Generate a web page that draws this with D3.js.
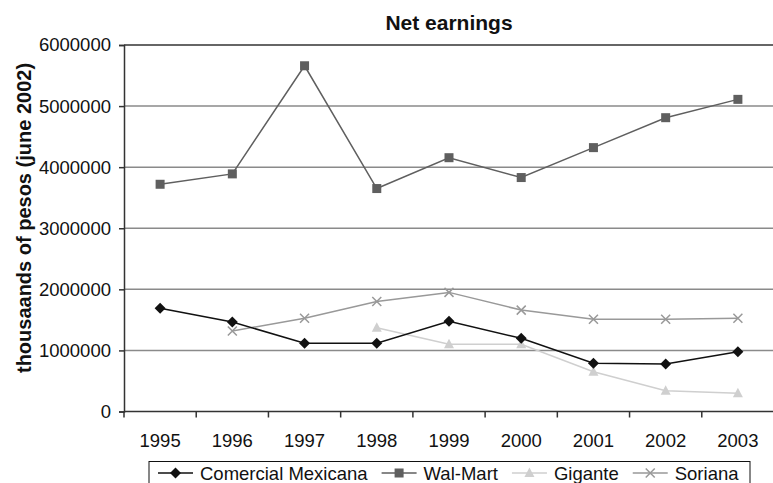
<!DOCTYPE html>
<html>
<head>
<meta charset="utf-8">
<script src="https://cdn.jsdelivr.net/npm/d3@7"></script>
<style>
  html, body { margin: 0; padding: 0; background: #fff; }
  svg { display: block; font-family: Arial, "Liberation Sans", sans-serif; }
</style>
</head>
<body>
<svg id="chart" width="773" height="483"></svg>
<script>
const years = ["1995","1996","1997","1998","1999","2000","2001","2002","2003"];
const comercialMexicana = [1690000,1465000,1117000,1117000,1477000,1198000,789000,778000,980000];
const walMart = [3720000,3890000,5660000,3650000,4155000,3830000,4320000,4810000,5110000];
const gigante = [null,null,null,1370000,1100000,1100000,650000,340000,300000];
const soriana = [null,1318000,1526000,1800000,1950000,1660000,1510000,1510000,1526000];
const yTicks = [0,1000000,2000000,3000000,4000000,5000000,6000000];
const seriesNames = ["Comercial Mexicana","Wal-Mart","Gigante","Soriana"];

const series = [
  {name: seriesNames[0], values: comercialMexicana, color: "#111111", marker: "diamond"},
  {name: seriesNames[1], values: walMart, color: "#5f5f5f", marker: "square"},
  {name: seriesNames[2], values: gigante, color: "#cfcfcf", marker: "triangle"},
  {name: seriesNames[3], values: soriana, color: "#999999", marker: "cross"}
];

const svg = d3.select("#chart");
const m = {left: 124, top: 45, right: 774, bottom: 411.5};
const fs = "18.5px";

const x = d3.scaleBand().domain(years).range([m.left, m.right]).padding(0);
const y = d3.scaleLinear().domain([0, 6000000]).range([m.bottom, m.top]);

// gridlines
svg.append("g").selectAll("line")
  .data(yTicks.filter(t => t > 0 && t < 6000000))
  .join("line")
  .attr("x1", m.left).attr("x2", m.right)
  .attr("y1", d => y(d)).attr("y2", d => y(d))
  .attr("stroke", "#8a8a8a").attr("stroke-width", 1.5);

// top border
svg.append("line")
  .attr("x1", m.left).attr("x2", m.right)
  .attr("y1", y(6000000)).attr("y2", y(6000000))
  .attr("stroke", "#333").attr("stroke-width", 1.5);

// y axis
const yAxis = svg.append("g")
  .attr("transform", `translate(${m.left},0)`)
  .call(d3.axisLeft(y).tickValues(yTicks).tickFormat(d3.format("d")).tickSize(5).tickPadding(8));
yAxis.select(".domain").attr("stroke", "#333").attr("stroke-width", 1.5);
yAxis.selectAll(".tick line").attr("stroke", "#333").attr("stroke-width", 1.5);
yAxis.selectAll(".tick text").attr("font-size", fs).attr("fill", "#111")
  .attr("font-family", "Arial, 'Liberation Sans', sans-serif");

// x axis with ticks at band boundaries
const xAxisG = svg.append("g").attr("transform", `translate(0,${m.bottom})`);
xAxisG.append("line").attr("x1", m.left).attr("x2", m.right).attr("y1", 0).attr("y2", 0)
  .attr("stroke", "#333").attr("stroke-width", 1.5);
xAxisG.selectAll("line.tk").data(years).join("line").attr("class","tk")
  .attr("x1", d => x(d)).attr("x2", d => x(d))
  .attr("y1", 0).attr("y2", 6)
  .attr("stroke", "#333").attr("stroke-width", 1.5);
xAxisG.selectAll("text").data(years).join("text")
  .attr("x", d => x(d) + x.bandwidth()/2)
  .attr("y", 35.5)
  .attr("text-anchor", "middle")
  .attr("font-size", fs).attr("fill", "#111")
  .text(d => d);

// title
svg.append("text")
  .attr("x", (m.left + m.right)/2).attr("y", 29.5)
  .attr("text-anchor", "middle")
  .attr("font-size", "21px").attr("font-weight", "bold").attr("fill", "#111")
  .text("Net earnings");

// y title
svg.append("text")
  .attr("transform", `translate(31,218) rotate(-90)`)
  .attr("text-anchor", "middle")
  .attr("font-size", "20px").attr("font-weight", "bold").attr("fill", "#111")
  .text("thousaands of pesos (june 2002)");

function drawMarker(g, type, color, cx, cy) {
  if (type === "diamond") {
    g.append("path").attr("d", `M${cx},${cy-5.5}L${cx+5.5},${cy}L${cx},${cy+5.5}L${cx-5.5},${cy}Z`)
      .attr("fill", color);
  } else if (type === "square") {
    g.append("rect").attr("x", cx-4.5).attr("y", cy-4.5).attr("width", 9).attr("height", 9)
      .attr("fill", color);
  } else if (type === "triangle") {
    g.append("path").attr("d", `M${cx},${cy-5.5}L${cx+5},${cy+4}L${cx-5},${cy+4}Z`)
      .attr("fill", color);
  } else if (type === "cross") {
    g.append("path").attr("d", `M${cx-4.5},${cy-4.5}L${cx+4.5},${cy+4.5}M${cx-4.5},${cy+4.5}L${cx+4.5},${cy-4.5}`)
      .attr("stroke", color).attr("stroke-width", 1.5).attr("fill", "none");
  }
}

const line = d3.line()
  .defined(d => d.v != null)
  .x(d => x(d.year) + x.bandwidth()/2)
  .y(d => y(d.v));

const drawOrder = [2, 3, 1, 0];
drawOrder.forEach(i => {
  const s = series[i];
  const pts = years.map((yr, j) => ({year: yr, v: s.values[j]}));
  const g = svg.append("g");
  g.append("path").datum(pts).attr("d", line)
    .attr("fill", "none").attr("stroke", s.color).attr("stroke-width", 1.5);
  pts.filter(p => p.v != null).forEach(p => {
    drawMarker(g, s.marker, s.color, x(p.year) + x.bandwidth()/2, y(p.v));
  });
});

// legend
const lg = svg.append("g");
lg.append("rect").attr("x", 149).attr("y", 461.5).attr("width", 601).attr("height", 40)
  .attr("fill", "#fff").attr("stroke", "#111").attr("stroke-width", 1);
let lx = 158;
series.forEach(s => {
  lg.append("line").attr("x1", lx).attr("x2", lx + 35).attr("y1", 473).attr("y2", 473)
    .attr("stroke", s.color).attr("stroke-width", 1.5);
  drawMarker(lg, s.marker, s.color, lx + 17.5, 473);
  const t = lg.append("text").attr("x", lx + 42).attr("y", 479.5)
    .attr("font-size", fs).attr("fill", "#111").text(s.name);
  lx = lx + 42 + t.node().getComputedTextLength() + 14;
});
</script>
</body>
</html>
